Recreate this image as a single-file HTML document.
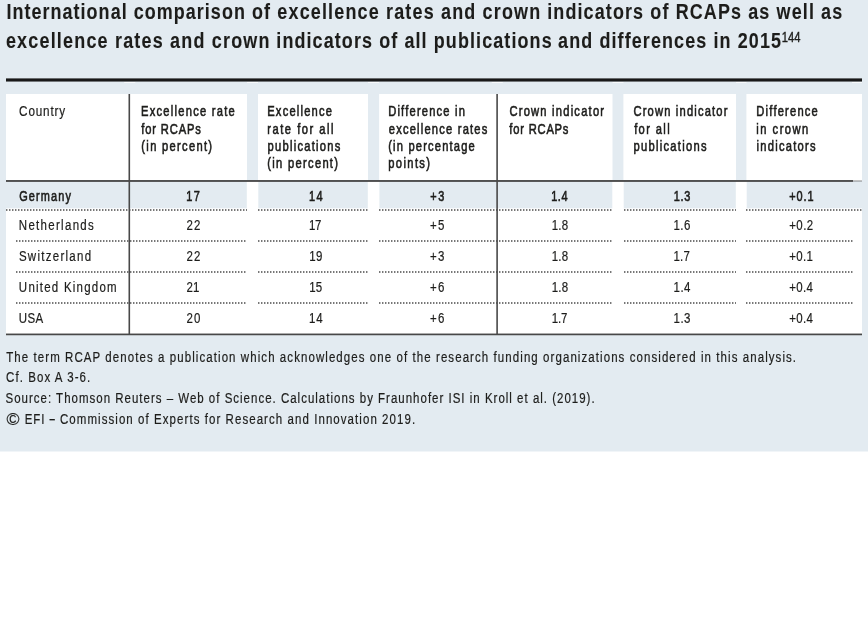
<!DOCTYPE html>
<html lang="en">
<head>
<meta charset="utf-8">
<title>International comparison of excellence rates and crown indicators</title>
<style>
html,body{margin:0;padding:0;background:#fff}
body{width:868px;height:618px;position:relative;overflow:hidden;font-family:"Liberation Sans",sans-serif;color:#1d1d1b}
.panel{position:absolute;left:0;top:0;width:868px;height:451px;background:#e3ebf1}
.b{position:absolute}
h1,p{margin:0;padding:0;font:inherit}
.t{position:absolute;left:0;white-space:nowrap;transform-origin:0 0;line-height:1;margin:0;padding:0}
.w{background:#fff}
.dot{height:2px;opacity:.8;background-image:repeating-linear-gradient(90deg,#555 0,#555 1px,rgba(85,85,85,.45) 1px,rgba(85,85,85,.45) 2px,transparent 2px,transparent 3px)}

</style>
</head>
<body>
<div class="panel">
<div class="b" style="left:0px;top:451px;width:868px;height:1px;background:rgba(227,235,241,0.50)"></div>
<div class="b" style="left:6px;top:78px;width:856px;height:1px;background:rgba(24,24,24,0.60)"></div>
<div class="b" style="left:6px;top:79px;width:856px;height:2px;background:rgba(24,24,24,1.00)"></div>
<div class="b" style="left:6px;top:81px;width:856px;height:1px;background:rgba(24,24,24,0.55)"></div>
<div class="b" style="left:124px;top:82px;width:1px;height:1px;background:rgba(255,255,255,0.60)"></div>
<div class="b" style="left:125px;top:82px;width:10px;height:1px;background:rgba(255,255,255,0.75)"></div>
<div class="b" style="left:135px;top:82px;width:1px;height:1px;background:rgba(255,255,255,0.22)"></div>
<div class="b" style="left:247px;top:82px;width:11px;height:1px;background:rgba(255,255,255,0.75)"></div>
<div class="b" style="left:368px;top:82px;width:11px;height:1px;background:rgba(255,255,255,0.75)"></div>
<div class="b" style="left:491px;top:82px;width:1px;height:1px;background:rgba(255,255,255,0.22)"></div>
<div class="b" style="left:492px;top:82px;width:10px;height:1px;background:rgba(255,255,255,0.75)"></div>
<div class="b" style="left:502px;top:82px;width:1px;height:1px;background:rgba(255,255,255,0.60)"></div>
<div class="b" style="left:612px;top:82px;width:1px;height:1px;background:rgba(255,255,255,0.38)"></div>
<div class="b" style="left:613px;top:82px;width:10px;height:1px;background:rgba(255,255,255,0.75)"></div>
<div class="b" style="left:623px;top:82px;width:1px;height:1px;background:rgba(255,255,255,0.38)"></div>
<div class="b" style="left:736px;top:82px;width:10px;height:1px;background:rgba(255,255,255,0.75)"></div>
<div class="b" style="left:746px;top:82px;width:1px;height:1px;background:rgba(255,255,255,0.38)"></div>
<div class="b" style="left:852px;top:82px;width:10px;height:1px;background:rgba(255,255,255,0.75)"></div>
<div class="b w" style="left:6px;top:94px;width:856px;height:240px"></div>
<div class="b" style="left:247px;top:94px;width:11px;height:87px;background:rgba(227,235,241,1.00)"></div>
<div class="b" style="left:368px;top:94px;width:11px;height:87px;background:rgba(227,235,241,1.00)"></div>
<div class="b" style="left:379px;top:94px;width:1px;height:87px;background:rgba(227,235,241,0.10)"></div>
<div class="b" style="left:612px;top:94px;width:1px;height:87px;background:rgba(227,235,241,0.50)"></div>
<div class="b" style="left:613px;top:94px;width:10px;height:87px;background:rgba(227,235,241,1.00)"></div>
<div class="b" style="left:623px;top:94px;width:1px;height:87px;background:rgba(227,235,241,0.40)"></div>
<div class="b" style="left:736px;top:94px;width:10px;height:87px;background:rgba(227,235,241,1.00)"></div>
<div class="b" style="left:746px;top:94px;width:1px;height:87px;background:rgba(227,235,241,0.40)"></div>
<div class="b" style="left:6px;top:181px;width:856px;height:27px;background:rgba(227,235,241,1.00)"></div>
<div class="b" style="left:6px;top:208px;width:856px;height:1px;background:rgba(227,235,241,0.30)"></div>
<div class="b" style="left:246px;top:181px;width:1px;height:28px;background:rgba(255,255,255,0.20)"></div>
<div class="b" style="left:247px;top:181px;width:11px;height:28px;background:rgba(255,255,255,1.00)"></div>
<div class="b" style="left:258px;top:181px;width:1px;height:28px;background:rgba(255,255,255,0.30)"></div>
<div class="b" style="left:367px;top:181px;width:1px;height:28px;background:rgba(255,255,255,0.20)"></div>
<div class="b" style="left:368px;top:181px;width:11px;height:28px;background:rgba(255,255,255,1.00)"></div>
<div class="b" style="left:379px;top:181px;width:1px;height:28px;background:rgba(255,255,255,0.40)"></div>
<div class="b" style="left:612px;top:181px;width:1px;height:28px;background:rgba(255,255,255,0.70)"></div>
<div class="b" style="left:613px;top:181px;width:10px;height:28px;background:rgba(255,255,255,1.00)"></div>
<div class="b" style="left:623px;top:181px;width:1px;height:28px;background:rgba(255,255,255,0.70)"></div>
<div class="b" style="left:735px;top:181px;width:1px;height:28px;background:rgba(255,255,255,0.20)"></div>
<div class="b" style="left:736px;top:181px;width:10px;height:28px;background:rgba(255,255,255,1.00)"></div>
<div class="b" style="left:746px;top:181px;width:1px;height:28px;background:rgba(255,255,255,0.70)"></div>
<div class="b" style="left:6px;top:180px;width:847px;height:1px;background:rgba(72,72,72,0.95)"></div>
<div class="b" style="left:6px;top:181px;width:847px;height:1px;background:rgba(72,72,72,0.90)"></div>
<div class="b" style="left:853px;top:180px;width:9px;height:1px;background:rgba(72,72,72,0.33)"></div>
<div class="b" style="left:853px;top:181px;width:9px;height:1px;background:rgba(72,72,72,0.32)"></div>
<div class="b dot" style="left:6px;top:209px;width:241px;height:2px"></div>
<div class="b dot" style="left:258px;top:209px;width:110px;height:2px"></div>
<div class="b dot" style="left:379px;top:209px;width:233px;height:2px"></div>
<div class="b dot" style="left:624px;top:209px;width:112px;height:2px"></div>
<div class="b dot" style="left:746px;top:209px;width:116px;height:2px"></div>
<div class="b dot" style="left:16px;top:240px;width:231px;height:2px"></div>
<div class="b dot" style="left:258px;top:240px;width:110px;height:2px"></div>
<div class="b dot" style="left:379px;top:240px;width:233px;height:2px"></div>
<div class="b dot" style="left:624px;top:240px;width:112px;height:2px"></div>
<div class="b dot" style="left:746px;top:240px;width:107px;height:2px"></div>
<div class="b dot" style="left:16px;top:271px;width:231px;height:2px"></div>
<div class="b dot" style="left:258px;top:271px;width:110px;height:2px"></div>
<div class="b dot" style="left:379px;top:271px;width:233px;height:2px"></div>
<div class="b dot" style="left:624px;top:271px;width:112px;height:2px"></div>
<div class="b dot" style="left:746px;top:271px;width:107px;height:2px"></div>
<div class="b dot" style="left:16px;top:302px;width:231px;height:2px"></div>
<div class="b dot" style="left:258px;top:302px;width:110px;height:2px"></div>
<div class="b dot" style="left:379px;top:302px;width:233px;height:2px"></div>
<div class="b dot" style="left:624px;top:302px;width:112px;height:2px"></div>
<div class="b dot" style="left:746px;top:302px;width:107px;height:2px"></div>
<div class="b" style="left:6px;top:333px;width:856px;height:1px;background:rgba(72,72,72,0.45)"></div>
<div class="b" style="left:6px;top:334px;width:856px;height:1px;background:rgba(72,72,72,1.00)"></div>
<div class="b" style="left:6px;top:335px;width:856px;height:1px;background:rgba(72,72,72,0.25)"></div>
<div class="b" style="left:128px;top:94px;width:1px;height:240px;background:rgba(72,72,72,0.50)"></div>
<div class="b" style="left:129px;top:94px;width:1px;height:240px;background:rgba(72,72,72,1.00)"></div>
<div class="b" style="left:130px;top:94px;width:1px;height:240px;background:rgba(72,72,72,0.10)"></div>
<div class="b" style="left:496px;top:94px;width:1px;height:240px;background:rgba(72,72,72,0.70)"></div>
<div class="b" style="left:497px;top:94px;width:1px;height:240px;background:rgba(72,72,72,0.90)"></div>
<h1>
<span class="t" id="t1a" style="top:1px;font-size:22px;font-weight:bold;letter-spacing:1.295px;-webkit-text-stroke:0.1px #1d1d1b;transform:translateX(6.38px) scaleX(0.8150)">International comparison of</span>
<span class="t" id="t1b" style="top:1px;font-size:22px;font-weight:bold;letter-spacing:1.453px;-webkit-text-stroke:0.1px #1d1d1b;transform:translateX(277.32px) scaleX(0.8150)">excellence rates and crown</span>
<span class="t" id="t1c" style="top:1px;font-size:22px;font-weight:bold;letter-spacing:1.395px;-webkit-text-stroke:0.1px #1d1d1b;transform:translateX(547.17px) scaleX(0.8150)">indicators of RCAPs as well as</span>
<span class="t" id="t2a" style="top:30px;font-size:22px;font-weight:bold;letter-spacing:1.490px;-webkit-text-stroke:0.1px #1d1d1b;transform:translateX(5.89px) scaleX(0.8150)">excellence rates and crown</span>
<span class="t" id="t2b" style="top:30px;font-size:22px;font-weight:bold;letter-spacing:1.364px;-webkit-text-stroke:0.1px #1d1d1b;transform:translateX(276.30px) scaleX(0.8150)">indicators of all publications</span>
<span class="t" id="t2c" style="top:30px;font-size:22px;font-weight:bold;letter-spacing:1.367px;-webkit-text-stroke:0.1px #1d1d1b;transform:translateX(558.12px) scaleX(0.8150)">and differences in 2015</span>
<sup class="t" id="t2s" style="top:30px;font-size:14px;font-weight:normal;letter-spacing:-0.053px;-webkit-text-stroke:0.4px #1d1d1b;transform:translateX(781.80px) scaleX(0.8000)">144</sup></h1>
<div class="t" id="h1_0" style="top:104px;font-size:14.3px;font-weight:normal;letter-spacing:0.990px;-webkit-text-stroke:0.2px #1d1d1b;transform:translateX(19.12px) scaleX(0.8200)">Country</div>
<div class="t" id="h2_0" style="top:104px;font-size:14.3px;font-weight:normal;letter-spacing:1.606px;-webkit-text-stroke:0.6px #1d1d1b;transform:translateX(140.97px) scaleX(0.7800)">Excellence rate</div>
<div class="t" id="h2_1" style="top:122px;font-size:14.3px;font-weight:normal;letter-spacing:1.129px;-webkit-text-stroke:0.6px #1d1d1b;transform:translateX(141.22px) scaleX(0.7800)">for RCAPs</div>
<div class="t" id="h2_2" style="top:139px;font-size:14.3px;font-weight:normal;letter-spacing:1.665px;-webkit-text-stroke:0.6px #1d1d1b;transform:translateX(141.34px) scaleX(0.7800)">(in percent)</div>
<div class="t" id="h3_0" style="top:104px;font-size:14.3px;font-weight:normal;letter-spacing:1.543px;-webkit-text-stroke:0.6px #1d1d1b;transform:translateX(267.22px) scaleX(0.7800)">Excellence</div>
<div class="t" id="h3_1" style="top:122px;font-size:14.3px;font-weight:normal;letter-spacing:1.938px;-webkit-text-stroke:0.6px #1d1d1b;transform:translateX(267.28px) scaleX(0.7800)">rate for all</div>
<div class="t" id="h3_2" style="top:139px;font-size:14.3px;font-weight:normal;letter-spacing:1.627px;-webkit-text-stroke:0.6px #1d1d1b;transform:translateX(267.53px) scaleX(0.7800)">publications</div>
<div class="t" id="h3_3" style="top:156px;font-size:14.3px;font-weight:normal;letter-spacing:1.661px;-webkit-text-stroke:0.6px #1d1d1b;transform:translateX(267.33px) scaleX(0.7800)">(in percent)</div>
<div class="t" id="h4_0" style="top:104px;font-size:14.3px;font-weight:normal;letter-spacing:1.533px;-webkit-text-stroke:0.6px #1d1d1b;transform:translateX(388.17px) scaleX(0.7800)">Difference in</div>
<div class="t" id="h4_1" style="top:122px;font-size:14.3px;font-weight:normal;letter-spacing:1.540px;-webkit-text-stroke:0.6px #1d1d1b;transform:translateX(388.75px) scaleX(0.7800)">excellence rates</div>
<div class="t" id="h4_2" style="top:139px;font-size:14.3px;font-weight:normal;letter-spacing:1.503px;-webkit-text-stroke:0.6px #1d1d1b;transform:translateX(388.22px) scaleX(0.7800)">(in percentage</div>
<div class="t" id="h4_3" style="top:156px;font-size:14.3px;font-weight:normal;letter-spacing:1.770px;-webkit-text-stroke:0.6px #1d1d1b;transform:translateX(388.27px) scaleX(0.7800)">points)</div>
<div class="t" id="h5_0" style="top:104px;font-size:14.3px;font-weight:normal;letter-spacing:1.572px;-webkit-text-stroke:0.6px #1d1d1b;transform:translateX(509.42px) scaleX(0.7800)">Crown indicator</div>
<div class="t" id="h5_1" style="top:122px;font-size:14.3px;font-weight:normal;letter-spacing:1.027px;-webkit-text-stroke:0.6px #1d1d1b;transform:translateX(509.35px) scaleX(0.7800)">for RCAPs</div>
<div class="t" id="h6_0" style="top:104px;font-size:14.3px;font-weight:normal;letter-spacing:1.508px;-webkit-text-stroke:0.6px #1d1d1b;transform:translateX(633.49px) scaleX(0.7800)">Crown indicator</div>
<div class="t" id="h6_1" style="top:122px;font-size:14.3px;font-weight:normal;letter-spacing:1.756px;-webkit-text-stroke:0.6px #1d1d1b;transform:translateX(634.13px) scaleX(0.7800)">for all</div>
<div class="t" id="h6_2" style="top:139px;font-size:14.3px;font-weight:normal;letter-spacing:1.631px;-webkit-text-stroke:0.6px #1d1d1b;transform:translateX(633.60px) scaleX(0.7800)">publications</div>
<div class="t" id="h7_0" style="top:104px;font-size:14.3px;font-weight:normal;letter-spacing:1.536px;-webkit-text-stroke:0.6px #1d1d1b;transform:translateX(756.37px) scaleX(0.7800)">Difference</div>
<div class="t" id="h7_1" style="top:122px;font-size:14.3px;font-weight:normal;letter-spacing:1.900px;-webkit-text-stroke:0.6px #1d1d1b;transform:translateX(756.36px) scaleX(0.7800)">in crown</div>
<div class="t" id="h7_2" style="top:139px;font-size:14.3px;font-weight:normal;letter-spacing:1.599px;-webkit-text-stroke:0.6px #1d1d1b;transform:translateX(756.53px) scaleX(0.7800)">indicators</div>
<div class="t" id="r0_0" style="top:189px;font-size:14px;font-weight:normal;letter-spacing:1.460px;-webkit-text-stroke:0.6px #1d1d1b;transform:translateX(19.14px) scaleX(0.7800)">Germany</div>
<div class="t" id="r0_1" style="top:189px;font-size:14px;font-weight:normal;letter-spacing:1.616px;-webkit-text-stroke:0.6px #1d1d1b;transform:translateX(186.30px) scaleX(0.7800)">17</div>
<div class="t" id="r0_2" style="top:189px;font-size:14px;font-weight:normal;letter-spacing:1.941px;-webkit-text-stroke:0.6px #1d1d1b;transform:translateX(309.03px) scaleX(0.7800)">14</div>
<div class="t" id="r0_3" style="top:189px;font-size:14px;font-weight:normal;letter-spacing:2.119px;-webkit-text-stroke:0.6px #1d1d1b;transform:translateX(430.23px) scaleX(0.7800)">+3</div>
<div class="t" id="r0_4" style="top:189px;font-size:14px;font-weight:normal;letter-spacing:0.729px;-webkit-text-stroke:0.6px #1d1d1b;transform:translateX(551.23px) scaleX(0.7800)">1.4</div>
<div class="t" id="r0_5" style="top:189px;font-size:14px;font-weight:normal;letter-spacing:0.826px;-webkit-text-stroke:0.6px #1d1d1b;transform:translateX(673.75px) scaleX(0.7800)">1.3</div>
<div class="t" id="r0_6" style="top:189px;font-size:14px;font-weight:normal;letter-spacing:1.101px;-webkit-text-stroke:0.6px #1d1d1b;transform:translateX(789.36px) scaleX(0.7800)">+0.1</div>
<div class="t" id="r1_0" style="top:218px;font-size:14px;font-weight:normal;letter-spacing:1.583px;-webkit-text-stroke:0.2px #1d1d1b;transform:translateX(18.85px) scaleX(0.8200)">Netherlands</div>
<div class="t" id="r1_1" style="top:218px;font-size:14px;font-weight:normal;letter-spacing:1.433px;-webkit-text-stroke:0.2px #1d1d1b;transform:translateX(186.49px) scaleX(0.8200)">22</div>
<div class="t" id="r1_2" style="top:218px;font-size:14px;font-weight:normal;letter-spacing:-0.255px;-webkit-text-stroke:0.2px #1d1d1b;transform:translateX(308.93px) scaleX(0.8200)">17</div>
<div class="t" id="r1_3" style="top:218px;font-size:14px;font-weight:normal;letter-spacing:1.608px;-webkit-text-stroke:0.2px #1d1d1b;transform:translateX(430.09px) scaleX(0.8200)">+5</div>
<div class="t" id="r1_4" style="top:218px;font-size:14px;font-weight:normal;letter-spacing:0.326px;-webkit-text-stroke:0.2px #1d1d1b;transform:translateX(551.72px) scaleX(0.8200)">1.8</div>
<div class="t" id="r1_5" style="top:218px;font-size:14px;font-weight:normal;letter-spacing:0.567px;-webkit-text-stroke:0.2px #1d1d1b;transform:translateX(673.51px) scaleX(0.8200)">1.6</div>
<div class="t" id="r1_6" style="top:218px;font-size:14px;font-weight:normal;letter-spacing:0.538px;-webkit-text-stroke:0.2px #1d1d1b;transform:translateX(789.19px) scaleX(0.8200)">+0.2</div>
<div class="t" id="r2_0" style="top:249px;font-size:14px;font-weight:normal;letter-spacing:1.557px;-webkit-text-stroke:0.2px #1d1d1b;transform:translateX(18.94px) scaleX(0.8200)">Switzerland</div>
<div class="t" id="r2_1" style="top:249px;font-size:14px;font-weight:normal;letter-spacing:1.433px;-webkit-text-stroke:0.2px #1d1d1b;transform:translateX(186.49px) scaleX(0.8200)">22</div>
<div class="t" id="r2_2" style="top:249px;font-size:14px;font-weight:normal;letter-spacing:0.727px;-webkit-text-stroke:0.2px #1d1d1b;transform:translateX(309.13px) scaleX(0.8200)">19</div>
<div class="t" id="r2_3" style="top:249px;font-size:14px;font-weight:normal;letter-spacing:1.617px;-webkit-text-stroke:0.2px #1d1d1b;transform:translateX(429.92px) scaleX(0.8200)">+3</div>
<div class="t" id="r2_4" style="top:249px;font-size:14px;font-weight:normal;letter-spacing:0.311px;-webkit-text-stroke:0.2px #1d1d1b;transform:translateX(551.66px) scaleX(0.8200)">1.8</div>
<div class="t" id="r2_5" style="top:249px;font-size:14px;font-weight:normal;letter-spacing:0.290px;-webkit-text-stroke:0.2px #1d1d1b;transform:translateX(673.46px) scaleX(0.8200)">1.7</div>
<div class="t" id="r2_6" style="top:249px;font-size:14px;font-weight:normal;letter-spacing:0.433px;-webkit-text-stroke:0.2px #1d1d1b;transform:translateX(789.27px) scaleX(0.8200)">+0.1</div>
<div class="t" id="r3_0" style="top:280px;font-size:14px;font-weight:normal;letter-spacing:1.510px;-webkit-text-stroke:0.2px #1d1d1b;transform:translateX(18.85px) scaleX(0.8200)">United Kingdom</div>
<div class="t" id="r3_1" style="top:280px;font-size:14px;font-weight:normal;letter-spacing:0.059px;-webkit-text-stroke:0.2px #1d1d1b;transform:translateX(186.57px) scaleX(0.8200)">21</div>
<div class="t" id="r3_2" style="top:280px;font-size:14px;font-weight:normal;letter-spacing:0.354px;-webkit-text-stroke:0.2px #1d1d1b;transform:translateX(309.13px) scaleX(0.8200)">15</div>
<div class="t" id="r3_3" style="top:280px;font-size:14px;font-weight:normal;letter-spacing:1.629px;-webkit-text-stroke:0.2px #1d1d1b;transform:translateX(430.05px) scaleX(0.8200)">+6</div>
<div class="t" id="r3_4" style="top:280px;font-size:14px;font-weight:normal;letter-spacing:0.307px;-webkit-text-stroke:0.2px #1d1d1b;transform:translateX(551.65px) scaleX(0.8200)">1.8</div>
<div class="t" id="r3_5" style="top:280px;font-size:14px;font-weight:normal;letter-spacing:0.637px;-webkit-text-stroke:0.2px #1d1d1b;transform:translateX(673.47px) scaleX(0.8200)">1.4</div>
<div class="t" id="r3_6" style="top:280px;font-size:14px;font-weight:normal;letter-spacing:0.400px;-webkit-text-stroke:0.2px #1d1d1b;transform:translateX(789.26px) scaleX(0.8200)">+0.4</div>
<div class="t" id="r4_0" style="top:311px;font-size:14px;font-weight:normal;letter-spacing:0.471px;-webkit-text-stroke:0.2px #1d1d1b;transform:translateX(18.70px) scaleX(0.8200)">USA</div>
<div class="t" id="r4_1" style="top:311px;font-size:14px;font-weight:normal;letter-spacing:1.325px;-webkit-text-stroke:0.2px #1d1d1b;transform:translateX(186.54px) scaleX(0.8200)">20</div>
<div class="t" id="r4_2" style="top:311px;font-size:14px;font-weight:normal;letter-spacing:0.807px;-webkit-text-stroke:0.2px #1d1d1b;transform:translateX(309.12px) scaleX(0.8200)">14</div>
<div class="t" id="r4_3" style="top:311px;font-size:14px;font-weight:normal;letter-spacing:1.641px;-webkit-text-stroke:0.2px #1d1d1b;transform:translateX(429.92px) scaleX(0.8200)">+6</div>
<div class="t" id="r4_4" style="top:311px;font-size:14px;font-weight:normal;letter-spacing:-0.122px;-webkit-text-stroke:0.2px #1d1d1b;transform:translateX(551.68px) scaleX(0.8200)">1.7</div>
<div class="t" id="r4_5" style="top:311px;font-size:14px;font-weight:normal;letter-spacing:0.553px;-webkit-text-stroke:0.2px #1d1d1b;transform:translateX(673.57px) scaleX(0.8200)">1.3</div>
<div class="t" id="r4_6" style="top:311px;font-size:14px;font-weight:normal;letter-spacing:0.460px;-webkit-text-stroke:0.2px #1d1d1b;transform:translateX(789.19px) scaleX(0.8200)">+0.4</div>
<p class="t" id="f0" style="top:350px;font-size:14px;font-weight:normal;letter-spacing:1.318px;-webkit-text-stroke:0.2px #1d1d1b;transform:translateX(6.24px) scaleX(0.8200)">The term RCAP denotes a publication which acknowledges one of the research funding organizations considered in this analysis.</p>
<p class="t" id="f1" style="top:370px;font-size:14px;font-weight:normal;letter-spacing:1.304px;-webkit-text-stroke:0.2px #1d1d1b;transform:translateX(6.10px) scaleX(0.8200)">Cf. Box A 3-6.</p>
<p class="t" id="f2" style="top:391px;font-size:14px;font-weight:normal;letter-spacing:1.228px;-webkit-text-stroke:0.2px #1d1d1b;transform:translateX(5.52px) scaleX(0.8200)">Source: Thomson Reuters – Web of Science. Calculations by Fraunhofer ISI in Kroll et al. (2019).</p>
<p>
<span class="t" id="f3a" style="top:411px;font-size:16.5px;font-weight:normal;letter-spacing:0.000px;-webkit-text-stroke:0.15px #1d1d1b;transform:translateX(6.53px) scaleX(1.0684)">©</span>
<span class="t" id="f3b" style="top:412px;font-size:14px;font-weight:normal;letter-spacing:1.222px;-webkit-text-stroke:0.2px #1d1d1b;transform:translateX(24.63px) scaleX(0.8200)">EFI</span>
<span class="t" id="f3c" style="top:412px;font-size:14px;font-weight:normal;letter-spacing:0.000px;-webkit-text-stroke:0.2px #1d1d1b;transform:translateX(48.78px) scaleX(1.4865)">-</span>
<span class="t" id="f3d" style="top:412px;font-size:14px;font-weight:normal;letter-spacing:1.306px;-webkit-text-stroke:0.2px #1d1d1b;transform:translateX(59.94px) scaleX(0.8200)">Commission of Experts for Research and Innovation 2019.</span></p>
</div>
</body>
</html>
